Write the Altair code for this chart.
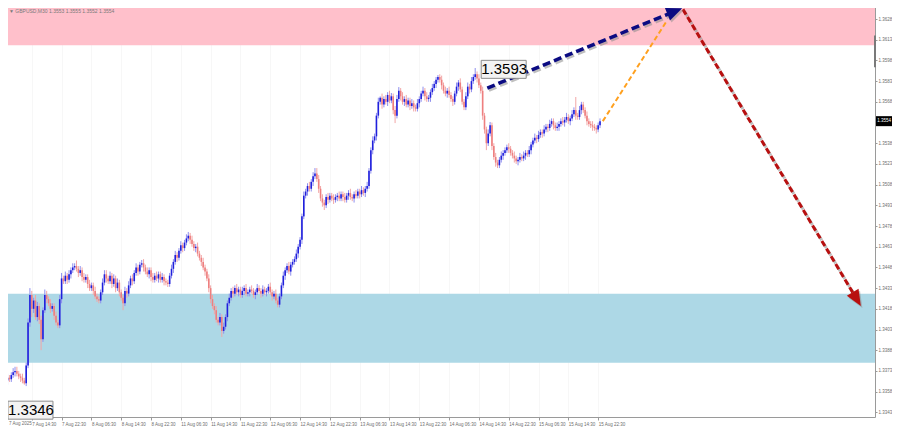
import altair as alt
import pandas as pd

# ---------------- data ----------------
BASE_PRICE = 1.3300
PIP = 0.0001
FIRST_OPEN_PIPS = 49

# close of every M30 bar, in pips above 1.3300 (7 Aug 06:30 ... 15 Aug 23:00)
close_pips = [
    54, 63, 66, 68, 67, 70, 72, 73, 71, 69, 68, 66, 64, 77, 108, 128, 118, 124, 112, 120,
    110, 96, 117, 128, 125, 122, 118, 120, 113, 108, 106, 125, 140, 138, 142, 139, 143, 146, 148, 149,
    147, 144, 146, 141, 139, 141, 136, 133, 135, 131, 127, 125, 124, 130, 137, 143, 140, 138, 142, 136,
    140, 133, 137, 130, 126, 122, 131, 129, 135, 140, 138, 144, 148, 145, 150, 151, 148, 145, 143, 146,
    141, 139, 142, 140, 143, 139, 141, 138, 137, 136, 142, 147, 152, 157, 155, 160, 164, 162, 166, 169,
    171, 168, 165, 162, 163, 158, 155, 152, 148, 145, 140, 133, 125, 120, 117, 110, 108, 112, 102, 105,
    112, 122, 126, 131, 129, 133, 130, 132, 128, 131, 133, 129, 130, 132, 131, 128, 130, 133, 131, 129,
    132, 130, 131, 134, 130, 127, 129, 124, 121, 127, 135, 142, 146, 149, 145, 150, 152, 154, 158, 163,
    168, 185, 200, 203, 207, 205, 210, 214, 216, 212, 205, 198, 195, 193, 199, 197, 200, 198, 197, 199,
    200, 198, 201, 199, 197, 200, 202, 199, 198, 201, 200, 203, 201, 204, 202, 205, 207, 218, 233, 240,
    243, 258, 268, 271, 266, 270, 268, 273, 269, 272, 262, 258, 270, 276, 272, 268, 270, 266, 269, 265,
    267, 264, 263, 267, 270, 274, 276, 272, 270, 271, 275, 278, 281, 284, 286, 284, 280, 276, 274, 276,
    273, 270, 268, 274, 279, 282, 277, 268, 264, 272, 279, 277, 283, 286, 288, 285, 280, 276, 258, 248,
    238, 245, 251, 236, 228, 224, 222, 226, 229, 231, 233, 235, 234, 231, 229, 227, 225, 226, 228, 227,
    229, 231, 230, 233, 237, 240, 242, 241, 244, 246, 245, 248, 250, 249, 252, 254, 251, 249, 250, 252,
    254, 253, 255, 257, 254, 256, 259, 262, 258, 257, 262, 266, 262, 258, 254, 252, 251, 250, 249, 248,
    251, 254,
]

# upper / lower shadow length of each bar, in pips
wick_up_pips = [
    2, 3, 2, 3, 2, 2, 3, 3, 3, 2, 2, 3, 2, 2, 3, 5, 3, 2, 4, 3,
    2, 3, 2, 4, 3, 2, 3, 2, 2, 3, 2, 3, 4, 2, 3, 2, 3, 2, 3, 2,
    4, 2, 3, 2, 3, 2, 2, 3, 2, 2, 3, 2, 2, 2, 3, 3, 3, 2, 3, 2,
    3, 2, 3, 2, 2, 2, 3, 2, 3, 2, 3, 2, 3, 2, 2, 2.4, 3, 2, 3, 2,
    2, 3, 2, 3, 2, 2, 3, 2, 2, 2, 2, 3, 2, 3, 2, 2, 3, 2, 2, 3,
    2.7, 2, 3, 2, 2, 3, 2, 2, 3, 2, 2, 3, 2, 3, 2, 3, 2, 3, 2, 3,
    2, 2, 3, 2, 3, 2, 3, 2, 2, 3, 2, 3, 2, 2, 3, 2, 2, 3, 2, 2,
    3, 2, 2, 2, 3, 2, 2, 3, 2, 2, 2, 3, 2, 2, 3, 2, 2, 2, 3, 2,
    2, 2, 3, 2, 2, 3, 2, 3, 4, 4, 3, 2, 3, 2, 2, 3, 2, 2, 3, 2,
    2, 3, 2, 2, 3, 2, 2, 3, 2, 2, 3, 2, 2, 3, 2, 2, 3, 2, 2, 3,
    2, 2, 3, 1, 3, 2, 3, 2, 3, 2.4, 2, 3, 3, 2.7, 2, 3, 2, 3, 2, 2,
    3, 2, 2, 3, 2, 2, 3, 2, 3, 2, 2, 3, 2, 2, 1.4, 2, 3, 2, 3, 2,
    3, 2, 2, 2, 3, 1.8, 3, 2, 2, 3, 3, 2, 3, 2, 4.5, 2, 3, 2, 3, 2,
    2, 3, 2.4, 2, 2, 3, 2, 2, 3, 2, 2, 2, 3, 2, 2, 3, 2, 2, 3, 2,
    3, 2, 2, 3, 2, 2, 3, 2, 3, 2, 2, 3, 2, 2, 3, 2, 2, 2, 3, 2,
    2, 3, 2, 3, 2, 2, 3, 2, 9.5, 2, 3, 2, 2, 2, 3, 2, 2, 3, 2, 2,
    2, 2,
]
wick_dn_pips = [
    2.5, 2, 2, 3, 2, 2, 2, 3, 2, 2, 3, 2, 1, 2, 2, 3, 6, 3, 2, 3,
    3, 8, 2, 2, 3, 2, 3, 2, 3, 2, 2, 2, 3, 2, 2, 3, 2, 3, 2, 2,
    2, 3, 2, 3, 2, 2, 3, 2, 2, 3, 2, 2, 2, 2, 2, 2, 3, 2, 2, 3,
    2, 3, 2, 3, 2, 5, 2, 3, 2, 2, 3, 2, 2, 3, 2, 2, 3, 2, 2, 3,
    3, 2, 2, 2, 3, 2, 2, 3, 2, 2.2, 2, 2, 3, 2, 3, 2, 2, 3, 2, 2,
    2, 3, 2, 2, 3, 2, 2, 3, 2, 3, 2, 3, 3, 2, 3, 2, 2, 2, 4.4, 2,
    2, 3, 2, 2, 3, 2, 2, 3, 2, 2, 3, 2, 2, 3, 2, 2, 3, 2, 2, 3,
    2, 2, 3, 2, 2, 3, 2, 2, 2, 2, 2, 2, 3, 2, 2, 3, 2, 2, 2, 3,
    2, 3, 2, 2, 3, 2, 2, 3, 2, 2, 3, 2, 3, 3.4, 2, 3, 2, 2, 3, 2,
    3, 2, 2, 3, 2, 2, 3, 2, 2, 3, 2, 2, 3, 2, 2, 3, 2, 2, 2, 3,
    2, 3, 2, 2, 3, 2, 2, 3, 2, 2, 3, 5.4, 2, 2, 3, 2, 3, 2, 2, 3,
    2, 3, 2, 2, 3, 2, 2, 3, 2, 2, 3, 2, 2, 3, 2, 2, 3, 2, 2, 3,
    2, 2, 3, 2, 2, 3, 2, 2, 2, 2, 2, 3, 2, 2, 2, 3, 2, 2, 3, 3,
    5, 2, 2, 3, 2, 3, 2, 2, 2, 3, 2, 2, 3, 2, 2, 3, 2, 3, 2, 2,
    2, 3, 2, 2, 3, 2, 2, 3, 2, 2, 3, 2, 2, 3, 2, 2, 3, 2, 2, 3,
    2, 2, 3, 2, 2, 3, 2, 2, 3, 2, 2, 3, 2, 2, 3, 2, 2, 3, 2, 3,
    2, 2,
]

x_tick_bars = [0, 16, 32, 48, 64, 80, 96, 112, 128, 144, 160, 176, 192, 208, 224, 240, 256, 272, 288, 304, 320]
x_tick_labels = [
    "7 Aug 2025", "7 Aug 14:30", "7 Aug 22:30", "8 Aug 06:30", "8 Aug 14:30", "8 Aug 22:30",
    "11 Aug 06:30", "11 Aug 14:30", "11 Aug 22:30", "12 Aug 06:30", "12 Aug 14:30", "12 Aug 22:30",
    "13 Aug 06:30", "13 Aug 14:30", "13 Aug 22:30", "14 Aug 06:30", "14 Aug 14:30", "14 Aug 22:30",
    "15 Aug 06:30", "15 Aug 14:30", "15 Aug 22:30",
]
y_tick_values = [1.3343, 1.3358, 1.3373, 1.3388, 1.3403, 1.3418, 1.3433, 1.3448, 1.3463, 1.3478,
                 1.3493, 1.3508, 1.3523, 1.3538, 1.3568, 1.3583, 1.3598, 1.3613, 1.3628]

pink_zone = [1.3609, 1.3650]
blue_zone = [1.3379, 1.3429]
axis_marker = [1.3593, 1.3616]

label_bars = [0, 254]
label_prices = [1.3346, 1.3593]

last_price = 1.3554
header_text = "\u25bc GBPUSD,M30  1.3553 1.3555 1.3552 1.3554"

navy_bar = [260.5, 360.6]
navy_price = [1.3578, 1.36333]
red_bar = [365.5, 458.5]
red_price = [1.3635, 1.34257]
orange_bar = [322.5, 357.0]
orange_price = [1.3554, 1.3627]
head_bar = [360.6, 458.5]
head_price = [1.36333, 1.34257]
head_angle = [68, 149]

# ---------------- layout ----------------
W, H = 875, 417
X_DOMAIN = [-1.06, 468.6]
Y_DOMAIN = [1.33396, 1.36418]
BULL_BODY, BEAR_BODY = "#2020dc", "#ee7f7f"
BULL_WICK, BEAR_WICK = "#8e8eee", "#f2a6a6"
NAVY, RED, ORANGE = "#0b0b82", "#b81010", "#ffa01e"
ARROW_PATH = "M0,-1L0.75,0.75L-0.75,0.75Z"
AXIS_FONT = "Liberation Sans"

rows = []
prev = FIRST_OPEN_PIPS
for i, c in enumerate(close_pips):
    o = prev
    bull = c >= o
    rows.append({
        "bar": i,
        "open": BASE_PRICE + o * PIP,
        "close": BASE_PRICE + c * PIP,
        "high": BASE_PRICE + (max(o, c) + wick_up_pips[i]) * PIP,
        "low": BASE_PRICE + (min(o, c) - wick_dn_pips[i]) * PIP,
        "body_col": BULL_BODY if bull else BEAR_BODY,
        "wick_col": BULL_WICK if bull else BEAR_WICK,
    })
    prev = c
candles = pd.DataFrame(rows)

xs = alt.Scale(domain=X_DOMAIN, nice=False, zero=False)
ys = alt.Scale(domain=Y_DOMAIN, nice=False, zero=False)

# first label is drawn separately (the page margin would cut it)
label_js = "['']" if False else "[" + ",".join("'" + s + "'" for s in [""] + x_tick_labels[1:]) + "]"
x_axis = alt.Axis(
    values=x_tick_bars, labelExpr=label_js + "[round(datum.value/16)]",
    labelAlign="left", labelBaseline="top", labelFontSize=4.5, labelFont=AXIS_FONT,
    labelColor="#6e6e6e", labelPadding=1, labelOverlap=False, labelFlush=False, labelBound=False,
    tickSize=3, tickColor="#9a9a9a", domainColor="#9a9a9a", grid=True, gridColor="#f7f7f7",
    title=None,
)
y_axis = alt.Axis(
    orient="right", values=y_tick_values, format=".4f", labelFontSize=4.5, labelFont=AXIS_FONT,
    labelColor="#6e6e6e", labelPadding=1, labelOverlap=False, labelBound=False, tickSize=2,
    tickColor="#9a9a9a", domainColor="#9a9a9a", grid=False, title=None,
)


def X(field):
    return alt.X(field, type="quantitative", scale=xs, axis=x_axis)


def Y(field):
    return alt.Y(field, type="quantitative", scale=ys, axis=y_axis)


zone_df = pd.DataFrame({
    "x0": [X_DOMAIN[0], X_DOMAIN[0]], "x1": [X_DOMAIN[1], X_DOMAIN[1]],
    "y0": [pink_zone[0], blue_zone[0]], "y1": [pink_zone[1], blue_zone[1]],
    "fill": ["#ffc0cb", "#add8e6"],
})
zones = alt.Chart(zone_df).mark_rect(clip=True).encode(
    x=X("x0"), x2="x1:Q", y=Y("y0"), y2="y1:Q", color=alt.Color("fill:N", scale=None)
)

wicks = alt.Chart(candles).mark_rule(strokeWidth=1, clip=True).encode(
    x=X("bar"), y=Y("low"), y2="high:Q", color=alt.Color("wick_col:N", scale=None)
)
bodies = alt.Chart(candles).mark_rule(strokeWidth=1.6, clip=True).encode(
    x=X("bar"), y=Y("open"), y2="close:Q", color=alt.Color("body_col:N", scale=None)
)


def dashed(bars, prices, color, width, dash, shadow=True):
    df = pd.DataFrame({"bar": bars, "price": prices, "seq": list(range(len(bars)))})
    layers = []
    if shadow:
        layers.append(alt.Chart(df).mark_line(
            color="#8a8a8a", strokeWidth=width, strokeDash=dash, opacity=0.55,
            xOffset=1.5, yOffset=2, strokeCap="butt").encode(x=X("bar"), y=Y("price"), order="seq:O"))
    layers.append(alt.Chart(df).mark_line(
        color=color, strokeWidth=width, strokeDash=dash, strokeCap="butt").encode(
        x=X("bar"), y=Y("price"), order="seq:O"))
    return layers


head_df = pd.DataFrame({"bar": head_bar, "price": head_price, "angle": head_angle,
                        "col": [NAVY, RED]})
head_shadow = alt.Chart(head_df).mark_point(
    shape=ARROW_PATH, filled=True, opacity=0.5, color="#8a8a8a", size=330, xOffset=1.5, yOffset=2
).encode(x=X("bar"), y=Y("price"), angle=alt.Angle("angle:Q", scale=None))
heads = alt.Chart(head_df).mark_point(shape=ARROW_PATH, filled=True, opacity=1, size=330).encode(
    x=X("bar"), y=Y("price"), angle=alt.Angle("angle:Q", scale=None),
    color=alt.Color("col:N", scale=None))

lab_df = pd.DataFrame({"bar": label_bars, "price": label_prices,
                       "txt": [f"{p:.4f}" for p in label_prices]})
lab_box = alt.Chart(lab_df).mark_rect(
    xOffset=6, x2Offset=51, yOffset=-7, y2Offset=11, fill="#f3f3f3", stroke="#8c8c8c", strokeWidth=1
).encode(x=X("bar"), x2="bar:Q", y=Y("price"), y2="price:Q")
lab_txt = alt.Chart(lab_df).mark_text(
    dx=29, dy=2, fontSize=15, font="Liberation Sans", color="#000000", align="center",
    baseline="middle").encode(x=X("bar"), y=Y("price"), text="txt:N")

tag_df = pd.DataFrame({"bar": [X_DOMAIN[1]], "price": [last_price], "txt": [f"{last_price:.4f}"]})
tag_box = alt.Chart(tag_df).mark_rect(
    xOffset=1, x2Offset=17, yOffset=-5, y2Offset=5, fill="#000000", clip=False
).encode(x=X("bar"), x2="bar:Q", y=Y("price"), y2="price:Q")
tag_txt = alt.Chart(tag_df).mark_text(
    dx=9, fontSize=4.5, font=AXIS_FONT, color="#ffffff", align="center", baseline="middle"
).encode(x=X("bar"), y=Y("price"), text="txt:N")

marker_df = pd.DataFrame({"bar": [X_DOMAIN[1]], "p0": [axis_marker[0]], "p1": [axis_marker[1]]})
marker = alt.Chart(marker_df).mark_rule(color="#7a7a7a", strokeWidth=2, clip=False).encode(
    x=X("bar"), y=Y("p0"), y2="p1:Q")

first_lab_df = pd.DataFrame({"bar": [x_tick_bars[0]], "price": [Y_DOMAIN[0]], "txt": [x_tick_labels[0]]})
first_lab = alt.Chart(first_lab_df).mark_text(
    fontSize=4.5, font=AXIS_FONT, color="#6e6e6e", align="left", baseline="top", dx=7, dy=4, clip=False
).encode(x=X("bar"), y=Y("price"), text="txt:N")

head_txt_df = pd.DataFrame({"txt": [header_text]})
header = alt.Chart(head_txt_df).mark_text(
    fontSize=5, font=AXIS_FONT, color="#7a7a7a", align="left", baseline="top"
).encode(x=alt.value(9), y=alt.value(8.5), text="txt:N")

layers = [zones, wicks, bodies]
layers += dashed(orange_bar, orange_price, ORANGE, 2, [5, 3], shadow=False)
layers += dashed(navy_bar, navy_price, NAVY, 3.5, [8, 4])
layers += dashed(red_bar, red_price, RED, 3, [6, 3])
layers += [head_shadow, heads, lab_box, lab_txt, marker, tag_box, tag_txt, first_lab, header]

chart = alt.layer(*layers).properties(
    width=W, height=H,
    padding={"left": -8, "top": -8, "right": 17, "bottom": 11},
    autosize=alt.AutoSizeParams(type="none"),
).configure_view(stroke=None)

chart.save("out.html", embed_options={"renderer": "svg", "actions": False})
